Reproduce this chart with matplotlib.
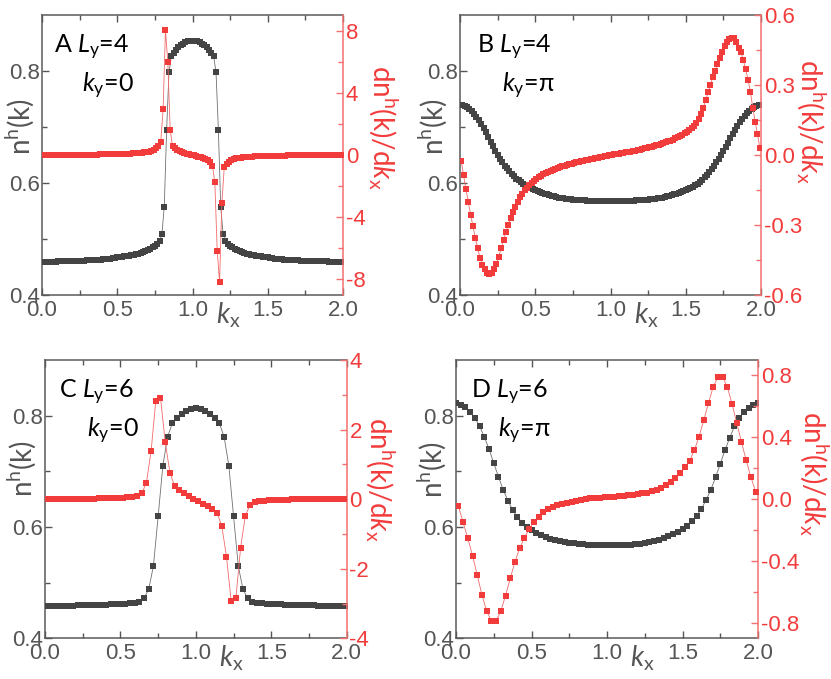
import numpy as np
import matplotlib
matplotlib.use('Agg')
import matplotlib.pyplot as plt
from matplotlib.ticker import FixedLocator, FixedFormatter

plt.rcParams['font.family'] = ['Liberation Sans', 'DejaVu Sans']
plt.rcParams['mathtext.fontset'] = 'custom'
plt.rcParams['mathtext.rm'] = 'Lato'
plt.rcParams['mathtext.it'] = 'Lato:italic'
plt.rcParams['mathtext.bf'] = 'Lato:bold'
plt.rcParams['axes.unicode_minus'] = False

# ---------------- data ----------------
# Panel A : L_y=4, k_y=0  (n on k=j/64, derivative on midpoints)
nA = [0.459, 0.459, 0.459, 0.459, 0.459, 0.459, 0.459, 0.460, 0.460, 0.460, 0.460,
      0.460, 0.460, 0.460, 0.461, 0.461, 0.461, 0.461, 0.461, 0.462, 0.462,
      0.462, 0.462, 0.463, 0.463, 0.463, 0.464, 0.464, 0.465, 0.465, 0.466,
      0.466, 0.467, 0.467, 0.468, 0.469, 0.469, 0.470, 0.471, 0.472, 0.473,
      0.474, 0.475, 0.477, 0.478, 0.480, 0.482, 0.485, 0.488, 0.491, 0.496,
      0.509, 0.558, 0.695, 0.798,
      0.826, 0.833, 0.838, 0.842, 0.846, 0.849, 0.851, 0.853, 0.854, 0.854,
      0.854, 0.853, 0.851, 0.849, 0.846, 0.842, 0.838, 0.833, 0.826,
      0.798, 0.695, 0.558, 0.509,
      0.496, 0.491, 0.488, 0.485, 0.482, 0.480, 0.478, 0.477, 0.475, 0.474,
      0.473, 0.472, 0.471, 0.470, 0.469, 0.469, 0.468, 0.467, 0.467, 0.466,
      0.466, 0.465, 0.465, 0.464, 0.464, 0.463, 0.463, 0.463, 0.462, 0.462,
      0.462, 0.462, 0.461, 0.461, 0.461, 0.461, 0.461, 0.460, 0.460, 0.460,
      0.460, 0.460, 0.460, 0.460, 0.459, 0.459, 0.459, 0.459, 0.459, 0.459, 0.459]
dA = [0.00, 0.00, 0.00, 0.01, 0.01, 0.01, 0.01, 0.01, 0.01, 0.01,
      0.01, 0.02, 0.02, 0.02, 0.02, 0.02, 0.02, 0.02, 0.03, 0.03,
      0.03, 0.03, 0.03, 0.03, 0.04, 0.04, 0.04, 0.04, 0.05, 0.05,
      0.05, 0.06, 0.06, 0.07, 0.07, 0.08, 0.08, 0.09, 0.10, 0.11,
      0.12, 0.13, 0.15, 0.17, 0.19, 0.22, 0.26, 0.32, 0.42, 0.58,
      0.85, 2.94, 8.02, 6.00, 1.63, 0.57,
      0.42, 0.33, 0.26, 0.20, 0.14, 0.09, 0.05, 0.01,
      -0.02, -0.06, -0.10, -0.15, -0.21, -0.27, -0.35, -0.46,
      -0.70, -1.76, -6.14, -8.17, -3.07, -0.80,
      -0.56, -0.42, -0.32, -0.26, -0.22, -0.19, -0.17, -0.15, -0.13, -0.12,
      -0.11, -0.10, -0.09, -0.08, -0.08, -0.07, -0.07, -0.06, -0.06, -0.05,
      -0.05, -0.05, -0.04, -0.04, -0.04, -0.04, -0.03, -0.03, -0.03, -0.03,
      -0.03, -0.02, -0.02, -0.02, -0.02, -0.02, -0.02, -0.02, -0.01, -0.01,
      -0.01, -0.01, -0.01, -0.01, -0.01, 0.00, 0.00, 0.00, 0.00, 0.00]

# Panel B : L_y=4, k_y=pi
nB = [0.740, 0.740, 0.738, 0.736, 0.733, 0.729, 0.724, 0.718, 0.712, 0.706,
      0.699, 0.691, 0.683, 0.674, 0.666, 0.658, 0.650, 0.643, 0.637, 0.631,
      0.626, 0.621, 0.616, 0.612, 0.608, 0.605, 0.601, 0.598, 0.596, 0.593,
      0.591, 0.589, 0.587, 0.585, 0.584, 0.582, 0.581, 0.580, 0.578, 0.577,
      0.576, 0.575, 0.574, 0.574, 0.573, 0.572, 0.572, 0.571, 0.570, 0.570,
      0.570, 0.569, 0.569, 0.569, 0.568, 0.568, 0.568, 0.568, 0.568, 0.568,
      0.568, 0.567, 0.567, 0.567, 0.567,
      0.567, 0.567, 0.567, 0.568, 0.568, 0.568, 0.568, 0.568, 0.568, 0.568,
      0.569, 0.569, 0.569, 0.570, 0.570, 0.570, 0.571, 0.572, 0.572, 0.573,
      0.574, 0.574, 0.575, 0.576, 0.577, 0.578, 0.580, 0.581, 0.582, 0.584,
      0.585, 0.587, 0.589, 0.591, 0.593, 0.596, 0.598, 0.601, 0.605, 0.610,
      0.615, 0.620, 0.625, 0.631, 0.637, 0.643, 0.650, 0.657, 0.664, 0.672,
      0.680, 0.688, 0.695, 0.702, 0.709, 0.715, 0.720, 0.725, 0.729, 0.733,
      0.736, 0.738, 0.740, 0.740]
dB = [-0.025, -0.085, -0.145, -0.200, -0.255, -0.305, -0.355, -0.400, -0.440, -0.470,
      -0.490, -0.505, -0.510, -0.505, -0.490, -0.465, -0.435, -0.400, -0.365, -0.330,
      -0.300, -0.270, -0.245, -0.222, -0.200, -0.182, -0.166, -0.152, -0.140, -0.129,
      -0.119, -0.110, -0.102, -0.095, -0.089, -0.083, -0.078, -0.073, -0.069, -0.065,
      -0.061, -0.057, -0.053, -0.049, -0.046, -0.043, -0.040, -0.037, -0.034, -0.032,
      -0.029, -0.027, -0.024, -0.022, -0.020, -0.018, -0.016, -0.014, -0.012, -0.010,
      -0.008, -0.006, -0.004, -0.002,
      0.001, 0.003, 0.004, 0.006, 0.008, 0.009, 0.011, 0.013, 0.015, 0.017,
      0.019, 0.021, 0.023, 0.026, 0.028, 0.031, 0.033, 0.036, 0.039, 0.042,
      0.045, 0.048, 0.051, 0.054, 0.058, 0.062, 0.066, 0.071, 0.076, 0.081,
      0.087, 0.093, 0.099, 0.106, 0.115, 0.125, 0.138, 0.155, 0.176, 0.203,
      0.235, 0.268, 0.302, 0.335, 0.360, 0.390, 0.415, 0.440, 0.465, 0.485,
      0.497, 0.503, 0.500, 0.485, 0.460, 0.440, 0.405, 0.367, 0.322, 0.270,
      0.203, 0.143, 0.090, 0.030]

# Panel C : L_y=6, k_y=0  (n on k=j/32)
nC = [0.458, 0.458, 0.458, 0.458, 0.458, 0.458, 0.458, 0.459, 0.459, 0.459,
      0.459, 0.460, 0.460, 0.460, 0.461, 0.461, 0.462, 0.462, 0.463, 0.464,
      0.466, 0.472, 0.488, 0.530, 0.619, 0.710, 0.762, 0.786,
      0.795, 0.803, 0.809, 0.812, 0.813,
      0.812, 0.809, 0.803, 0.795,
      0.786, 0.762, 0.710, 0.619, 0.530, 0.488, 0.472,
      0.466, 0.464, 0.463, 0.462, 0.462, 0.461, 0.461, 0.460, 0.460, 0.460,
      0.459, 0.459, 0.459, 0.459, 0.458, 0.458, 0.458, 0.458, 0.458, 0.458, 0.458]
dC = [0.00, 0.00, 0.00, 0.00, 0.00, 0.01, 0.01, 0.01, 0.01, 0.01,
      0.01, 0.02, 0.02, 0.02, 0.03, 0.03, 0.04, 0.05, 0.06, 0.09,
      0.17, 0.46, 1.37, 2.82, 2.92, 1.64, 0.76, 0.38,
      0.27, 0.17, 0.08, 0.01, -0.06, -0.13, -0.21, -0.29, -0.40,
      -0.77, -1.65, -2.94, -2.83, -1.39, -0.48, -0.16,
      -0.08, -0.06, -0.04, -0.03, -0.03, -0.02, -0.02, -0.02, -0.01, -0.01,
      -0.01, -0.01, -0.01, -0.01, 0.00, 0.00, 0.00, 0.00, 0.00, 0.00]

# Panel D : L_y=6, k_y=pi
nD = [0.822, 0.820, 0.815, 0.807, 0.796, 0.781, 0.762, 0.740, 0.715, 0.690,
      0.667, 0.647, 0.631, 0.618, 0.608, 0.600, 0.594, 0.589, 0.585, 0.582,
      0.579, 0.577, 0.575, 0.573, 0.572, 0.571, 0.570, 0.569, 0.568, 0.568,
      0.567, 0.567, 0.567, 0.567, 0.567, 0.567, 0.568, 0.568, 0.569, 0.570,
      0.571, 0.573, 0.575, 0.577, 0.580, 0.583, 0.587, 0.591, 0.596, 0.602,
      0.610, 0.620, 0.633, 0.648, 0.667, 0.689, 0.713, 0.738, 0.760, 0.781,
      0.796, 0.807, 0.814, 0.820, 0.822]
dD = [-0.045, -0.149, -0.253, -0.365, -0.490, -0.620, -0.724, -0.788, -0.788, -0.724,
      -0.624, -0.512, -0.404, -0.317, -0.249, -0.194, -0.145, -0.113, -0.085, -0.065,
      -0.050, -0.038, -0.030, -0.024, -0.016, -0.009, -0.003, 0.002, 0.005, 0.008,
      0.010, 0.012, 0.014, 0.016, 0.018, 0.021, 0.024, 0.028, 0.032, 0.037,
      0.043, 0.050, 0.062, 0.075, 0.092, 0.112, 0.138, 0.168, 0.205, 0.248,
      0.315, 0.405, 0.509, 0.622, 0.725, 0.790, 0.790, 0.725, 0.617, 0.492,
      0.369, 0.250, 0.142, 0.049]

xticks = [0.0, 0.5, 1.0, 1.5, 2.0]
xticklabels = ['0.0', '0.5', '1.0', '1.5', '2.0']
lticks = [0.4, 0.6, 0.8]
lticklabels = ['0.4', '0.6', '0.8']

# ---------------- style ----------------
GRAY = '#555555'
DARK = '#444444'
RED = '#f23c3c'
SPRED = '#f37070'

fig = plt.figure(figsize=(8.31, 6.79), dpi=100)
W, H = 831.0, 679.0


def rect(l, r, t, b):
    return [l / W, 1 - b / H, (r - l) / W, (b - t) / H]


panels = [
    dict(rect=rect(42, 343, 15, 295), n=nA, d=dA, step=64, ms=4.9,
         rlim=(-9, 9), rt=[-8, -4, 0, 4, 8], rl=['-8', '-4', '0', '4', '8'], rm=[-6, -2, 2, 6],
         t1='A $L_\\mathrm{y}$=4', t2='$k_\\mathrm{y}$=0', t1x=0.04, t2x=0.133,
         lyx=-0.073, lyy=0.60, ryx=1.13, ryy=0.60),
    dict(rect=rect(460, 761, 15, 295), n=nB, d=dB, step=64, ms=4.9,
         rlim=(-0.6, 0.6), rt=[-0.6, -0.3, 0.0, 0.3, 0.6], rl=['-0.6', '-0.3', '0.0', '0.3', '0.6'],
         rm=[-0.45, -0.15, 0.15, 0.45],
         t1='B $L_\\mathrm{y}$=4', t2='$k_\\mathrm{y}$=π', t1x=0.055, t2x=0.14,
         lyx=-0.09, lyy=0.60, ryx=1.165, ryy=0.62),
    dict(rect=rect(45, 346.7, 360, 638.3), n=nC, d=dC, step=32, ms=4.5,
         rlim=(-4, 4), rt=[-4, -2, 0, 2, 4], rl=['-4', '-2', '0', '2', '4'], rm=[-3, -1, 1, 3],
         t1='C $L_\\mathrm{y}$=6', t2='$k_\\mathrm{y}$=0', t1x=0.047, t2x=0.14,
         lyx=-0.077, lyy=0.61, ryx=1.11, ryy=0.573),
    dict(rect=rect(456, 758, 360, 638.3), n=nD, d=dD, step=32, ms=4.5,
         rlim=(-0.9, 0.9), rt=[-0.8, -0.4, 0.0, 0.4, 0.8], rl=['-0.8', '-0.4', '0.0', '0.4', '0.8'],
         rm=[-0.6, -0.2, 0.2, 0.6],
         t1='D $L_\\mathrm{y}$=6', t2='$k_\\mathrm{y}$=π', t1x=0.05, t2x=0.14,
         lyx=-0.08, lyy=0.605, ryx=1.185, ryy=0.593),
]

TXT = ['Lato', 'DejaVu Sans']

for p in panels:
    ax = fig.add_axes(p['rect'])
    n = np.array(p['n'])
    d = np.array(p['d'])
    kn = np.arange(len(n)) / p['step']
    kd = (np.arange(len(d)) + 0.5) / p['step']

    ax.plot(kn, n, '-', color='#707070', lw=0.6, zorder=2)
    ax.plot(kn, n, 's', color=DARK, ms=p['ms'], mew=0, zorder=3)
    ax.set_xlim(0, 2)
    ax.set_ylim(0.4, 0.9)
    ax.xaxis.set_major_locator(FixedLocator(xticks))
    ax.xaxis.set_major_formatter(FixedFormatter(xticklabels))
    ax.xaxis.set_minor_locator(FixedLocator([0.25, 0.75, 1.25, 1.75]))
    ax.yaxis.set_major_locator(FixedLocator(lticks))
    ax.yaxis.set_major_formatter(FixedFormatter(lticklabels))
    ax.yaxis.set_minor_locator(FixedLocator([0.5, 0.7]))
    ax.tick_params(axis='x', which='both', direction='in', top=True, bottom=True,
                   color=GRAY, labelcolor=GRAY, labelsize=16, pad=3.5)
    ax.tick_params(axis='y', which='both', direction='in', left=True, right=False,
                   color=GRAY, labelcolor=GRAY, labelsize=16, pad=1.5)
    ax.tick_params(which='major', length=5, width=1.0)
    ax.tick_params(which='minor', length=3.5, width=1.0)
    for s in ['left', 'bottom', 'top']:
        ax.spines[s].set_color('#5a5a5a')
        ax.spines[s].set_linewidth(1.1)
    ax.spines['right'].set_visible(False)

    axr = ax.twinx()
    axr.plot(kd, d, '-', color='#f26a6a', lw=0.6, zorder=2)
    axr.plot(kd, d, 's', color=RED, ms=p['ms'], mew=0, zorder=3)
    axr.set_ylim(*p['rlim'])
    axr.yaxis.set_major_locator(FixedLocator(p['rt']))
    axr.yaxis.set_major_formatter(FixedFormatter(p['rl']))
    axr.yaxis.set_minor_locator(FixedLocator(p['rm']))
    axr.tick_params(axis='y', which='both', direction='in', color=SPRED, labelcolor=RED,
                    labelsize=16, pad=2)
    axr.tick_params(which='major', length=5, width=1.0)
    axr.tick_params(which='minor', length=3.5, width=1.0)
    for s in ['left', 'bottom', 'top']:
        axr.spines[s].set_visible(False)
    axr.spines['right'].set_color(SPRED)
    axr.spines['right'].set_linewidth(1.1)

    ax.text(p['t1x'], 0.935, p['t1'], transform=ax.transAxes, ha='left', va='top',
            fontsize=18, color='black', family=TXT, zorder=5)
    ax.text(p['t2x'], 0.80, p['t2'], transform=ax.transAxes, ha='left', va='top',
            fontsize=18, color='black', family=TXT, zorder=5)

    ax.text(p['lyx'], p['lyy'], 'n$^\\mathrm{h}$(k)', transform=ax.transAxes, rotation=90,
            ha='center', va='center', fontsize=20, color=GRAY, family=TXT)
    axr.text(p['ryx'], p['ryy'], 'dn$^\\mathrm{h}$(k)/d$k_\\mathrm{x}$', transform=ax.transAxes,
             rotation=270, ha='center', va='center', fontsize=20, color=RED, family=TXT)
    ax.text(1.235, -0.02, '$k_\\mathrm{x}$', transform=ax.get_xaxis_transform(),
            ha='center', va='top', fontsize=20, color=GRAY, family=TXT)

fig.savefig('out.png', dpi=100)
